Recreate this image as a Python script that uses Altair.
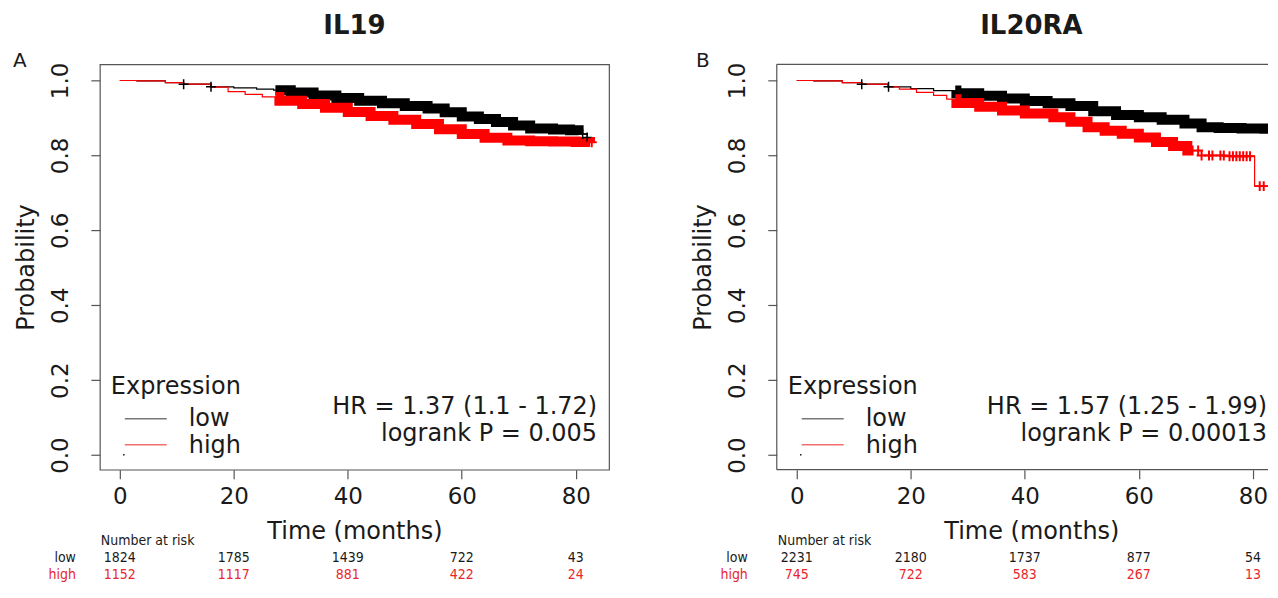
import altair as alt
import numpy as np
import pandas as pd

# ---------------- data ----------------
MONTH_TICKS = [0, 20, 40, 60, 80]
PROB_TICKS = [0.0, 0.2, 0.4, 0.6, 0.8, 1.0]
Y_DOMAIN = [-0.039, 1.043]
A_X_DOMAIN = [-3.5, 85.84]
B_X_DOMAIN = [-3.5, 82.65]

# Panel A : IL19
A_LOW_T = [0, 3, 8, 11.2, 16, 20, 24, 27, 30, 34, 38, 42, 46, 50, 54, 57, 60, 63, 66, 69, 72, 76, 79, 80.5, 82]
A_LOW_S = [1.0, 0.999, 0.994, 0.990, 0.983, 0.980, 0.977, 0.974, 0.968, 0.960, 0.953, 0.946, 0.939, 0.932,
           0.925, 0.915, 0.904, 0.897, 0.889, 0.880, 0.872, 0.869, 0.867, 0.857, 0.848]
A_HIGH_T = [0, 3, 8, 11.2, 16, 19, 22, 25, 28, 32, 36, 40, 44, 48, 52, 56, 60, 64, 68, 72, 76, 80, 82.5]
A_HIGH_S = [1.0, 0.999, 0.994, 0.990, 0.982, 0.970, 0.963, 0.956, 0.946, 0.937, 0.927, 0.916, 0.905,
            0.895, 0.884, 0.870, 0.857, 0.847, 0.840, 0.838, 0.837, 0.836, 0.835]
A_LOW_BAND = [27.3, 80.5]
A_HIGH_BAND = [27.3, 82.5]
A_LOW_MARKS = [11.2, 16.0, 81.2, 82.0]
A_HIGH_MARKS = [82.8]
A_RISK_LOW = [1824, 1785, 1439, 722, 43]
A_RISK_HIGH = [1152, 1117, 881, 422, 24]

# Panel B : IL20RA
B_LOW_T = [0, 3, 8, 11.4, 16, 20, 24, 28, 32, 36, 40, 44, 48, 52, 56, 60, 64, 68, 71, 74, 78, 82, 83.3]
B_LOW_S = [1.0, 0.999, 0.994, 0.990, 0.983, 0.978, 0.973, 0.966, 0.959, 0.952, 0.945, 0.939, 0.932,
           0.918, 0.908, 0.902, 0.895, 0.885, 0.875, 0.873, 0.872, 0.871, 0.870]
B_HIGH_T = [0, 3, 8, 11.4, 16, 18, 21, 24, 26.3, 28, 32, 36, 40, 45, 48, 51, 54, 57, 60, 63, 66,
            68.5, 71, 75, 80.3, 83.3]
B_HIGH_S = [1.0, 0.999, 0.994, 0.990, 0.983, 0.977, 0.968, 0.960, 0.950, 0.940, 0.930, 0.920, 0.912,
            0.902, 0.890, 0.875, 0.866, 0.858, 0.848, 0.836, 0.825, 0.813, 0.800, 0.798, 0.718, 0.718]
B_LOW_BAND = [27.8, 83.0]
B_HIGH_BAND = [27.8, 69.6]
B_LOW_MARKS = [11.4, 16.1, 83.3]
B_HIGH_MARKS = [70.4, 71.0, 72.3, 72.9, 74.3, 74.9, 75.9, 76.5, 77.1, 77.7, 78.3, 78.9, 79.5,
                81.2, 81.9]
B_RISK_LOW = [2231, 2180, 1737, 877, 54]
B_RISK_HIGH = [745, 722, 583, 267, 13]

# ---------------- style ----------------
FONT = "DejaVu Sans"
COND = "'DejaVu Sans Condensed', 'Liberation Sans Narrow', 'DejaVu Sans'"
TXT = "#1a1a1a"
GRAYBOX = "#555555"
RED = "#ff0000"
RISK_RED = "#e8262b"
PLUS = "M-1,0L1,0M0,-1L0,1"
PX_PER_MONTH = 510 / (A_X_DOMAIN[1] - A_X_DOMAIN[0])
H = 406


def step_at(ts, ss, x):
    i = int(np.searchsorted(np.asarray(ts), x, side="right")) - 1
    return ss[max(i, 0)]


def band_frame(ts, ss, rng):
    a, b = rng
    times = [a] + [t for t in ts if a < t < b] + [b]
    return pd.DataFrame({"t": times, "s": [step_at(ts, ss, t) for t in times]})


def marks_frame(ts, ss, times):
    return pd.DataFrame({"t": times, "s": [step_at(ts, ss, t) for t in times]})


def text_layer(txt, x, y, size, color=TXT, font=FONT, align="left", weight="normal"):
    return alt.Chart(pd.DataFrame({"txt": [txt]})).mark_text(
        font=font, fontSize=size, color=color, align=align, baseline="alphabetic",
        fontWeight=weight
    ).encode(text="txt:N", x=alt.value(x), y=alt.value(y))


def panel(title, letter, letter_x, xdom, lt, ls, ht, hs, lband, hband, lmarks, hmarks,
          hr, hr_x, pval, risk_low, risk_high, row_x, anchor=False, open_right=False):
    W = round((xdom[1] - xdom[0]) * PX_PER_MONTH)
    clip = open_right
    xs = alt.Scale(domain=xdom, nice=False, zero=False)
    ys = alt.Scale(domain=Y_DOMAIN, nice=False, zero=False)
    x_enc = alt.X("t:Q", scale=xs, axis=alt.Axis(
        values=MONTH_TICKS, title="Time (months)", grid=False, domain=False,
        tickSize=9, tickColor=GRAYBOX, tickWidth=1.2,
        labelFont=FONT, labelFontSize=23, labelColor=TXT, labelBaseline="alphabetic",
        labelPadding=25, labelFlush=False, labelOverlap=False,
        titleFont=FONT, titleFontSize=24, titleFontWeight="normal", titleColor=TXT,
        titleX=255, titleY=69, titleAlign="center", titleBaseline="alphabetic"))
    y_enc = alt.Y("s:Q", scale=ys, axis=alt.Axis(
        values=PROB_TICKS, format=".1f", title="Probability", grid=False, domain=False,
        tickSize=9, tickColor=GRAYBOX, tickWidth=1.2,
        labelFont=FONT, labelFontSize=23, labelColor=TXT, labelAngle=-90,
        labelAlign="center", labelBaseline="alphabetic", labelPadding=23,
        labelFlush=False, labelOverlap=False,
        titleFont=FONT, titleFontSize=24, titleFontWeight="normal", titleColor=TXT,
        titleAngle=-90, titleX=-66, titleY=H / 2, titleAlign="center",
        titleBaseline="alphabetic"))

    low_df = pd.DataFrame({"t": lt, "s": ls})
    high_df = pd.DataFrame({"t": ht, "s": hs})
    leg = pd.DataFrame({"k": [0]})

    layers = []
    if open_right:
        # frame drawn on three sides only: the right side runs off the picture
        layers += [
            alt.Chart(leg).mark_rule(color=GRAYBOX, strokeWidth=1.2)
            .encode(x=alt.value(0), x2=alt.value(W), y=alt.value(0)),
            alt.Chart(leg).mark_rule(color=GRAYBOX, strokeWidth=1.2)
            .encode(x=alt.value(0), x2=alt.value(W), y=alt.value(H)),
            alt.Chart(leg).mark_rule(color=GRAYBOX, strokeWidth=1.2)
            .encode(x=alt.value(0), y=alt.value(0), y2=alt.value(H)),
        ]

    layers += [
        alt.Chart(low_df).mark_line(interpolate="step-after", color="black", strokeWidth=1.2,
                                    clip=clip).encode(x=x_enc, y=y_enc),
        alt.Chart(high_df).mark_line(interpolate="step-after", color=RED, strokeWidth=1.2,
                                     clip=clip).encode(x=x_enc, y=y_enc),
        alt.Chart(band_frame(lt, ls, lband)).mark_line(
            interpolate="step-after", color="black", strokeWidth=10, strokeCap="butt",
            strokeJoin="miter", clip=clip).encode(x=x_enc, y=y_enc),
        alt.Chart(band_frame(ht, hs, hband)).mark_line(
            interpolate="step-after", color=RED, strokeWidth=10, strokeCap="butt",
            strokeJoin="miter", clip=clip).encode(x=x_enc, y=y_enc),
        alt.Chart(marks_frame(lt, ls, lmarks)).mark_point(
            shape=PLUS, size=100, filled=False, color="black", strokeWidth=1.5, opacity=1,
            clip=clip).encode(x=x_enc, y=y_enc),
        alt.Chart(marks_frame(ht, hs, hmarks)).mark_point(
            shape=PLUS, size=100, filled=False, color=RED, strokeWidth=2, opacity=1,
            clip=clip).encode(x=x_enc, y=y_enc),
    ]

    # number at risk table
    risk_df = pd.DataFrame({"t": MONTH_TICKS, "low": risk_low, "high": risk_high})
    layers.append(alt.Chart(risk_df).mark_text(
        font=COND, fontSize=14, color=TXT, align="center", baseline="alphabetic")
        .encode(x=x_enc, y=alt.value(498), text=alt.Text("low:Q", format="d")))
    layers.append(alt.Chart(risk_df).mark_text(
        font=COND, fontSize=14, color=RISK_RED, align="center", baseline="alphabetic")
        .encode(x=x_enc, y=alt.value(515), text=alt.Text("high:Q", format="d")))

    # legend and annotations
    layers += [
        text_layer("Expression", 11, 330, 24),
        alt.Chart(leg).mark_rule(color="#777777", strokeWidth=1.5)
        .encode(x=alt.value(25), x2=alt.value(67), y=alt.value(355)),
        alt.Chart(leg).mark_rule(color="#f07070", strokeWidth=1.5)
        .encode(x=alt.value(25), x2=alt.value(67), y=alt.value(381)),
        alt.Chart(leg).mark_circle(color="black", size=3, opacity=1)
        .encode(x=alt.value(24), y=alt.value(391)),
        text_layer("low", 89, 362, 24),
        text_layer("high", 89, 389, 24),
        text_layer(hr, hr_x, 350, 24, align="right"),
        text_layer(pval, hr_x, 377, 24, align="right"),
        text_layer(title, 255, -30, 26, align="center", weight="bold"),
        text_layer(letter, letter_x, 3, 20),
        text_layer("Number at risk", 1, 481, 14, font=COND),
        text_layer("low", row_x, 498, 14, font=COND, align="right"),
        text_layer("high", row_x, 515, 14, font=COND, color=RISK_RED, align="right"),
    ]
    if anchor:
        layers.append(alt.Chart(leg).mark_rule(color="white", strokeWidth=0.5)
                      .encode(x=alt.value(-91), x2=alt.value(-90.5),
                              y=alt.value(-55), y2=alt.value(-55)))
    props = dict(width=W, height=H)
    if open_right:
        props["view"] = alt.ViewBackground(stroke="transparent")
    return alt.layer(*layers).properties(**props)


panel_a = panel("IL19", "A", -87, A_X_DOMAIN, A_LOW_T, A_LOW_S, A_HIGH_T, A_HIGH_S,
                A_LOW_BAND, A_HIGH_BAND, A_LOW_MARKS, A_HIGH_MARKS,
                "HR = 1.37 (1.1 - 1.72)", 498, "logrank P = 0.005",
                A_RISK_LOW, A_RISK_HIGH, -24, anchor=True)
panel_b = panel("IL20RA", "B", -81, B_X_DOMAIN, B_LOW_T, B_LOW_S, B_HIGH_T, B_HIGH_S,
                B_LOW_BAND, B_HIGH_BAND, B_LOW_MARKS, B_HIGH_MARKS,
                "HR = 1.57 (1.25 - 1.99)", 491, "logrank P = 0.00013",
                B_RISK_LOW, B_RISK_HIGH, -29, open_right=True)

chart = alt.hconcat(panel_a, panel_b, spacing=168, bounds="flush").properties(
    padding=0, background="white"
).configure_view(stroke=GRAYBOX, strokeWidth=1.2)

chart.save("out.html", embed_options={"renderer": "svg", "actions": False})
